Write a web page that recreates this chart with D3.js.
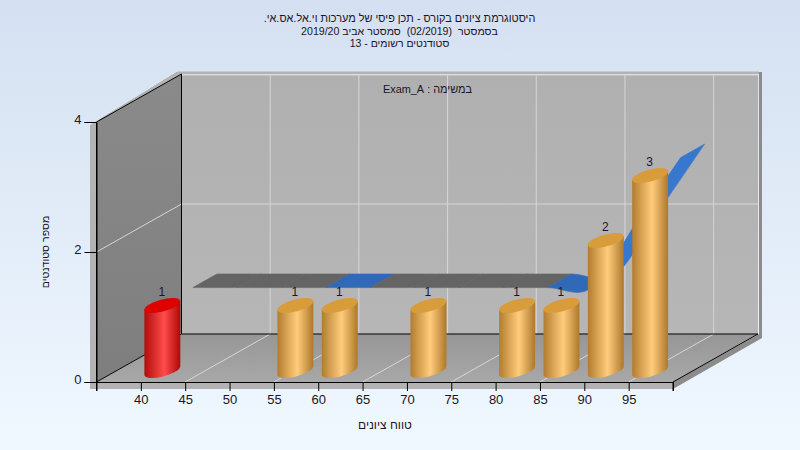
<!DOCTYPE html>
<html>
<head>
<meta charset="utf-8">
<script src="https://cdn.jsdelivr.net/npm/d3@7/dist/d3.min.js"></script>
<style>
html,body{margin:0;padding:0;background:#eef6fe;overflow:hidden}
svg{display:block}
text{font-family:"Liberation Sans",Arial,sans-serif;white-space:pre}
</style>
</head>
<body>
<svg id="c" width="800" height="450"></svg>
<script>
const categories = [40,45,50,55,60,65,70,75,80,85,90,95];
const counts     = [1,null,null,1,1,null,1,null,1,1,2,3];
const ribbon     = [1,1,1,1,1,1,1,1,1,1,2,3];
const failing    = [40];
const yTicks = [0,2,4];
const titleLines = ["היסטוגרמת ציונים בקורס - תכן פיסי של מערכות וי.אל.אס.אי.","בסמסטר  (02/2019)  סמסטר אביב 2019/20","סטודנטים רשומים - 13"];
const titleSizes = [10.9,10.6,10.5];
const subTitle = "במשימה : Exam_A";
const xTitle = "טווח ציונים";
const yTitle = "מספר סטודנטים";

const W=800,H=450;
const svg=d3.select("#c");
const x=d3.scaleLinear().domain([35,100]).range([96.5,673]);
const y=d3.scaleLinear().domain([0,4]).range([382,122]);
const DX=85,DY=-48;
const [x0,x1]=x.range(), y0=y(0), y4=y(4);
const ink="#1c1428";

const defs=svg.append("defs");
const grad=(id,stops,x2,y2)=>{const g=defs.append("linearGradient").attr("id",id).attr("x1",0).attr("y1",0).attr("x2",x2).attr("y2",y2);
  stops.forEach(s=>g.append("stop").attr("offset",s[0]).attr("stop-color",s[1]));};
grad("bg",[[0,"#d4e0f1"],[1,"#f0f8ff"]],0,1);
grad("leftWall",[[0,"#8a8a8a"],[1,"#7e7e7e"]],0,1);
grad("backWall",[[0,"#b0b0b0"],[1,"#b6b6b6"]],0,1);
grad("floor",[[0,"#969696"],[1,"#a8a8a8"]],0,1);
grad("orange",[[0,"#b27c2e"],[0.55,"#ffcc7c"],[1,"#ae782b"]],1,0);
grad("red",[[0,"#b00c0c"],[0.55,"#ff4c4c"],[1,"#ae0808"]],1,0);

svg.append("rect").attr("width",W).attr("height",H).attr("fill","url(#bg)");

const poly=(pts,fill)=>svg.append("polygon").attr("points",pts.map(p=>p.join(",")).join(" ")).attr("fill",fill);
// outer frame bands
poly([[90,125.5],[177,72],[762,72],[762,338],[673,389],[673,382],[759,334],[759,73],[181.5,73],[96.5,122]],"#8c8c8c");
poly([[90,125],[178,71.5],[759,71.5],[759,74],[181.5,74],[96.5,122.5],[96.5,382],[673,382],[673,389],[90,389]],"#b3b3b3");
// walls
poly([[x0+DX,y4+DY+1],[x1+DX,y4+DY+1],[x1+DX,y0+DY],[x0+DX,y0+DY]],"url(#backWall)");
poly([[x0,y4],[x0+DX,y4+DY],[x0+DX,y0+DY],[x0,y0]],"url(#leftWall)");
poly([[x0,y0],[x1,y0],[x1+DX,y0+DY],[x0+DX,y0+DY]],"url(#floor)");

// gridlines
const gridColor="#d6d6d6";
const seg=(a,b,c,w)=>svg.append("line").attr("x1",a[0]).attr("y1",a[1]).attr("x2",b[0]).attr("y2",b[1]).attr("stroke",c).attr("stroke-width",w||1);
[45,55,65,75,85,95].forEach(v=>{
  seg([x(v),y0],[x(v)+DX,y0+DY],gridColor);
  seg([x(v)+DX,y0+DY],[x(v)+DX,y4+DY+1],gridColor);
});
[2].forEach(v=>{
  seg([x0,y(v)],[x0+DX,y(v)+DY],gridColor);
  seg([x0+DX,y(v)+DY],[x1+DX,y(v)+DY],gridColor);
});
seg([x0+DX,y4+DY+1],[x1+DX,y4+DY+1],gridColor);

// ribbon series (spline, second depth row)
const rowFront=[52,-29.4], rowBack=[76,-43];
function bezierSegments(pts){
  const out=[];let last=null;
  const ctx={moveTo(a,b){last=[a,b];},lineTo(a,b){out.push([last,last,[a,b],[a,b]]);last=[a,b];},
    bezierCurveTo(a,b,c,d,e,f){out.push([last,[a,b],[c,d],[e,f]]);last=[e,f];},closePath(){}};
  d3.line().curve(d3.curveCardinal.tension(0)).context(ctx)(pts);
  return out;
}
const makeEdge=o=>bezierSegments(categories.map((c,i)=>[x(c)+o[0],y(ribbon[i])+o[1]]));
const fr=makeEdge(rowFront), bk=makeEdge(rowBack);
fr.forEach((f,i)=>{
  const b=bk[i];
  const emptySeg=counts[i]==null||counts[i+1]==null;
  const rising=ribbon[i+1]>ribbon[i];
  const fill=emptySeg?"#646464":(rising?"#3777ce":"#2f69b8");
  svg.append("path").attr("fill",fill).attr("stroke",fill).attr("stroke-width",0.6)
   .attr("d",`M${f[0]}C${f[1]} ${f[2]} ${f[3]}L${b[3]}C${b[2]} ${b[1]} ${b[0]}Z`);
});

// structural black lines
const k="#000";
seg([x0,y4],[x0,y0],k);
seg([x0+DX,y4+DY],[x0+DX,y0+DY],k);
seg([x0,y4],[x0+DX,y4+DY],k);
seg([x0,y0],[x0+DX,y0+DY],k);
seg([x0+DX,y0+DY],[x1+DX,y0+DY],k);
seg([x1,y0],[x1+DX,y0+DY],k);

// axes
const xAxis=d3.axisBottom(x).tickValues(categories).tickSize(9).tickPadding(4).tickFormat(d3.format("d"));
const gx=svg.append("g").attr("transform",`translate(0,${y0})`).call(xAxis);
const yAxis=d3.axisLeft(y).tickValues(yTicks).tickSize(12).tickPadding(3).tickFormat(d3.format("d"));
const gy=svg.append("g").attr("transform",`translate(${x0},0)`).call(yAxis);
[gx,gy].forEach(g=>{
  g.attr("font-family",null).attr("font-size",null);
  g.select(".domain").attr("stroke","#000");
  g.selectAll(".tick line").attr("stroke","#000");
  g.selectAll(".tick text").attr("fill",ink).style("font-size","13px");
});
gy.selectAll(".tick text").attr("dy","0.12em");
seg([x0,y0],[x0,y0+9],k); seg([x1,y0],[x1,y0+9],k);

// cylinders
const BX=21.5, BY=-11.5;
const A=18.5,Bb=6,ROT=-15, TX=17.95, TY=4.27;
const barData=categories.map((c,i)=>({c,v:counts[i]})).filter(d=>d.v!=null);
const barG=svg.append("g");
barData.forEach(d=>{
  const cx=x(d.c)+BX, by=y(0)+BY, ty=y(d.v)+BY;
  const isRed=failing.includes(d.c);
  barG.append("path").attr("fill",isRed?"url(#red)":"url(#orange)")
    .attr("d",`M${cx-TX},${ty+TY}L${cx-TX},${by+TY}A${A},${Bb} ${ROT} 0 0 ${cx+TX},${by-TY}L${cx+TX},${ty-TY}Z`);
  barG.append("ellipse").attr("cx",cx).attr("cy",ty).attr("rx",A).attr("ry",Bb)
    .attr("transform",`rotate(${ROT} ${cx} ${ty})`).attr("fill",isRed?"#df0000":"#d99c3b");
  barG.append("text").attr("x",cx-0.5).attr("y",ty-9.5).attr("text-anchor","middle")
    .attr("fill",ink).style("font-size","12px").text(d.v);
});

// titles
const heb=(tx,ty,s,size)=>svg.append("text").attr("x",tx).attr("y",ty).attr("text-anchor","middle")
  .attr("direction","rtl").attr("fill",ink).style("font-size",size+"px").text(s);
titleLines.forEach((s,i)=>heb(399.5,22+i*12.7,s,titleSizes[i]));
heb(427.5,92.5,subTitle,10.9);
heb(385,429,xTitle,12);
heb(0,0,yTitle,10.6).attr("transform","translate(49,252) rotate(-90)");
</script>
</body>
</html>
